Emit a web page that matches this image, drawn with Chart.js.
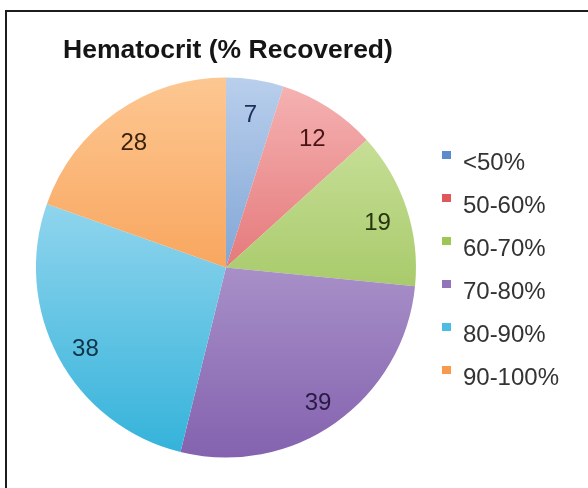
<!DOCTYPE html>
<html><head><meta charset="utf-8">
<script src="https://cdn.jsdelivr.net/npm/chart.js@4"></script>
<style>
html,body{margin:0;padding:0;background:#fff;overflow:hidden;width:588px;height:488px;}
#frame{position:absolute;left:5px;top:10px;width:700px;height:600px;border:2px solid #1c1c1c;box-sizing:border-box;}
#wrap{position:absolute;left:0;top:0;width:588px;height:488px;}
</style></head><body>
<div id="frame"></div>
<div id="wrap"><canvas id="c" width="588" height="488"></canvas></div>
<script>
const chartTitle = 'Hematocrit (% Recovered)';
const categories = ['<50%', '50-60%', '60-70%', '70-80%', '80-90%', '90-100%'];
const counts = [7, 12, 19, 39, 38, 28];
const lightColors = ['#B9CFEC', '#F6B4B4', '#D3E7A8', '#CBBDE1', '#BEE6F7', '#FDC792'];
const darkColors  = ['#4A7DC0', '#D43F43', '#86B33A', '#8462AF', '#33B2DA', '#F4862C'];
const markerColors = ['#5B8BCB', '#E0575A', '#9DC652', '#9274BA', '#4CBDE2', '#F79A4C'];
const labelColors = ['#1B2F5A', '#4A1416', '#26350E', '#2A1B44', '#0F3345', '#3A220E'];

function markerCanvas(color) {
  const cv = document.createElement('canvas');
  cv.width = 9; cv.height = 24;
  const c = cv.getContext('2d');
  c.fillStyle = color;
  c.fillRect(0, 0, 9, 8);
  return cv;
}
const markers = markerColors.map(markerCanvas);

const titlePlugin = {
  id: 'topTitle',
  afterDraw(chart) {
    const ctx = chart.ctx;
    ctx.save();
    ctx.font = 'bold 26.5px "Liberation Sans", Arial, sans-serif';
    ctx.fillStyle = '#151515';
    ctx.textAlign = 'left';
    ctx.textBaseline = 'alphabetic';
    ctx.fillText(chartTitle, 63, 58);
    ctx.restore();
  }
};

const sliceLabelPlugin = {
  id: 'sliceLabels',
  afterDatasetsDraw(chart) {
    const ctx = chart.ctx;
    const meta = chart.getDatasetMeta(0);
    ctx.save();
    ctx.font = '24px "Liberation Sans", Arial, sans-serif';
    ctx.textAlign = 'center';
    ctx.textBaseline = 'middle';
    meta.data.forEach((arc, i) => {
      const p = arc.getProps(['x', 'y', 'startAngle', 'endAngle', 'outerRadius'], true);
      const a = (p.startAngle + p.endAngle) / 2;
      const r = p.outerRadius * 0.84;
      ctx.fillStyle = labelColors[i];
      ctx.fillText(String(counts[i]), p.x + Math.cos(a) * r, p.y + Math.sin(a) * r + 6);
    });
    ctx.restore();
  }
};

new Chart(document.getElementById('c'), {
  type: 'pie',
  data: {
    labels: categories,
    datasets: [{
      data: counts,
      backgroundColor(ctx) {
        const chart = ctx.chart;
        const area = chart.chartArea;
        const i = ctx.dataIndex;
        if (!area || i === undefined) return markerColors[i || 0];
        const g = chart.ctx.createLinearGradient(0, area.top, 0, area.bottom);
        g.addColorStop(0, lightColors[i]);
        g.addColorStop(1, darkColors[i]);
        return g;
      },
      borderWidth: 0,
      hoverOffset: 0,
      radius: 190
    }]
  },
  options: {
    responsive: false,
    animation: false,
    layout: { padding: { left: 29, right: 19, top: 77.5, bottom: 30.5 } },
    plugins: {
      title: { display: false },
      tooltip: { enabled: false },
      legend: {
        display: true,
        position: 'right',
        align: 'center',
        title: { display: true, text: ' ', font: { size: 4, lineHeight: 1 }, padding: 1 },
        labels: {
          boxWidth: 9,
          boxHeight: 9,
          padding: 19,
          usePointStyle: true,
          color: '#333333',
          font: { family: '"Liberation Sans", Arial, sans-serif', size: 24 },
          generateLabels(chart) {
            return categories.map((c, i) => ({
              text: c,
              fontColor: '#333333',
              fillStyle: markerColors[i],
              strokeStyle: markerColors[i],
              pointStyle: markers[i],
              lineWidth: 0,
              hidden: false,
              index: i
            }));
          }
        }
      }
    }
  },
  plugins: [titlePlugin, sliceLabelPlugin]
});
</script>
</body></html>
